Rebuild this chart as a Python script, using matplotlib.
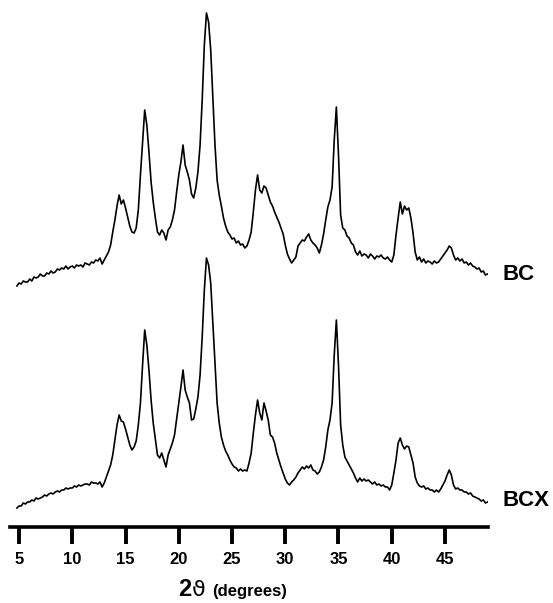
import numpy as np
import matplotlib
matplotlib.use("Agg")
import matplotlib.pyplot as plt

# 2-theta sampling (degrees)
two_theta = np.round(np.arange(4.8, 49.01, 0.2), 2)

# diffracted intensity, arbitrary units
bc = [
    4, 7, 6, 9, 8, 8, 11, 9, 13, 12,
    13, 16, 14, 14, 17, 16, 19, 17, 18, 21,
    20, 22, 21, 24, 21, 23, 24, 22, 25, 24,
    25, 23, 27, 26, 25, 28, 27, 30, 29, 32,
    26, 30, 34, 38, 45, 58, 70, 84, 95, 86,
    90, 82, 73, 64, 58, 57, 62, 80, 115, 148,
    180, 165, 138, 108, 88, 72, 58, 55, 60, 57,
    50, 60, 63, 70, 80, 98, 115, 128, 145, 125,
    118, 110, 96, 92, 102, 118, 145, 190, 245, 277,
    268, 240, 192, 145, 110, 95, 84, 72, 64, 58,
    55, 51, 52, 47, 49, 45, 46, 42, 44, 50,
    58, 78, 100, 115, 100, 97, 104, 102, 95, 88,
    84, 78, 73, 68, 62, 56, 45, 36, 31, 27,
    30, 33, 44, 47, 50, 49, 53, 56, 50, 47,
    45, 42, 37, 45, 56, 70, 83, 90, 103, 150,
    183, 135, 75, 62, 60, 54, 52, 47, 45, 38,
    35, 39, 34, 36, 35, 32, 36, 34, 31, 34,
    33, 35, 32, 31, 33, 30, 28, 35, 55, 72,
    88, 76, 84, 80, 82, 72, 57, 38, 30, 33,
    28, 31, 27, 29, 28, 26, 29, 27, 28, 31,
    34, 37, 40, 44, 42, 35, 30, 32, 29, 31,
    27, 28, 25, 27, 24, 23, 21, 22, 18, 19,
    15, 16,
]

bcx = [
    7, 9, 9, 12, 11, 13, 13, 15, 14, 17,
    16, 17, 18, 20, 19, 21, 22, 21, 23, 24,
    23, 25, 25, 27, 26, 27, 27, 29, 28, 30,
    29, 30, 31, 31, 30, 33, 32, 32, 31, 33,
    28, 32, 38, 44, 50, 60, 75, 90, 100, 94,
    93, 86, 78, 70, 65, 68, 74, 90, 112, 150,
    185, 170, 145, 115, 92, 76, 60, 57, 62, 55,
    48, 60, 66, 72, 80, 96, 112, 128, 145, 125,
    118, 112, 95, 96, 106, 118, 140, 178, 225, 257,
    250, 232, 192, 150, 112, 92, 78, 70, 64, 60,
    55, 51, 48, 47, 44, 46, 44, 45, 44, 52,
    62, 82, 100, 115, 102, 95, 112, 104, 95, 80,
    78, 72, 62, 55, 48, 42, 36, 32, 30, 33,
    35, 38, 42, 45, 48, 46, 49, 47, 50, 45,
    44, 41, 43, 48, 55, 68, 85, 95, 112, 160,
    195, 150, 90, 70, 58, 54, 50, 46, 42, 37,
    33, 37, 34, 36, 34, 35, 33, 31, 33, 30,
    31, 29, 30, 28, 28, 25, 30, 42, 55, 72,
    77, 70, 66, 69, 68, 60, 52, 38, 32, 29,
    28, 29, 26, 27, 25, 25, 23, 25, 23, 26,
    30, 34, 40, 45, 40, 30, 26, 27, 25, 25,
    23, 23, 21, 22, 19, 18, 17, 16, 14, 15,
    12, 13,
]

bc_offset = 225
tick_positions = [5, 10, 15, 20, 25, 30, 35, 40, 45]

fig = plt.figure(figsize=(5.53, 6.03), dpi=100)
ax = fig.add_axes([10 / 553, 76 / 603, 478 / 553, 527 / 603])

ax.plot(two_theta, np.array(bcx), color="black", lw=1.2)
ax.plot(two_theta, np.array(bc) + bc_offset, color="black", lw=1.2)

ax.set_xlim(4.15, 49.04)
ax.set_ylim(-12, 515)

for side in ["top", "right", "left"]:
    ax.spines[side].set_visible(False)
ax.spines["bottom"].set_linewidth(2.6)
ax.set_yticks([])
ax.set_xticks(tick_positions)
ax.set_xticklabels([str(t) for t in tick_positions], fontsize=12,
                   fontweight="bold", family="Liberation Sans")
ax.tick_params(axis="x", direction="out", length=12, width=2.8, pad=6)

# sample labels
ax.text(1.03, 15 + bc_offset, "BC", transform=ax.get_yaxis_transform(),
        fontsize=16, fontweight="bold", family="Liberation Sans", va="center", ha="left")
ax.text(1.03, 15, "BCX", transform=ax.get_yaxis_transform(),
        fontsize=16, fontweight="bold", family="Liberation Sans", va="center", ha="left")

# axis title: 2 theta (degrees)
fig.text(178 / 553, 7 / 603, "2", fontsize=17, fontweight="bold",
         family="Liberation Sans", ha="left", va="baseline")
fig.text(192 / 553, 7 / 603, "\u03d1", fontsize=16,
         family="DejaVu Sans", ha="left", va="baseline")
fig.text(212 / 553, 7 / 603, "(degrees)", fontsize=12, fontweight="bold",
         family="Liberation Sans", ha="left", va="baseline")

fig.savefig("out.png", dpi=100)
